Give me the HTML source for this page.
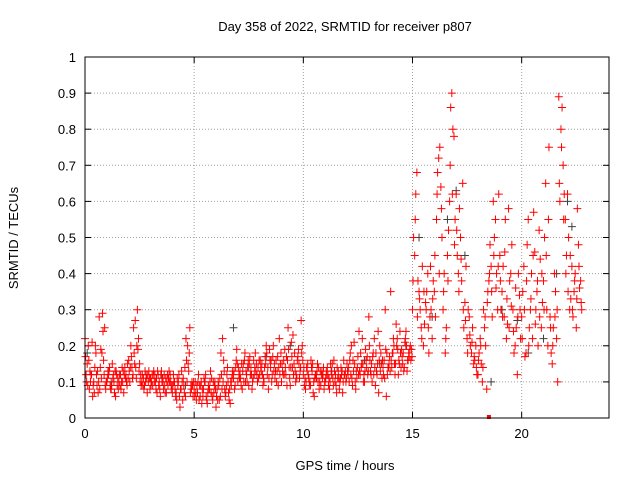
<!DOCTYPE html>
<html><head><meta charset="utf-8"><style>
body{margin:0;background:#fff}
svg{display:block;font-family:"Liberation Sans",sans-serif;font-size:13px}
</style></head><body>
<svg id="chart" width="640" height="480">
<text x="345" y="31" text-anchor="middle">Day 358 of 2022, SRMTID for receiver p807</text>
<text x="345" y="470" text-anchor="middle">GPS time / hours</text>
<text transform="translate(18,238) rotate(-90)" text-anchor="middle">SRMTID / TECUs</text>
<g id="grid"></g>
<g id="ticks"></g>
<g id="marks"></g>
<rect x="85" y="57" width="524" height="361" fill="none" stroke="#000"/>
</svg>
<script>
const xTicks=[0,5,10,15,20];
const yTicks=[0,0.1,0.2,0.3,0.4,0.5,0.6,0.7,0.8,0.9,1];
const yTickLabels=["0","0.1","0.2","0.3","0.4","0.5","0.6","0.7","0.8","0.9","1"];
const redA=[0.22,0.15,0.08,0.12,0.10,0.18,0.07,0.14,0.29,0.25,
0.10,0.13,0.08,0.12,0.06,0.11,0.09,0.14,0.12,0.10,
0.16,0.20,0.12,0.27,0.30,0.15,0.10,0.08,0.12,0.10,
0.11,0.09,0.12,0.07,0.10,0.13,0.08,0.11,0.09,0.12,
0.07,0.10,0.05,0.12,0.08,0.11,0.06,0.20,0.25,0.10,
0.08,0.05,0.12,0.09,0.06,0.10,0.04,0.08,0.11,0.07,
0.03,0.10,0.06,0.22,0.08,0.12,0.05,0.09,0.11,0.14,
0.10,0.13,0.08,0.16,0.12,0.09,0.14,0.11,0.18,0.10,
0.12,0.15,0.10,0.20,0.08,0.14,0.17,0.11,0.13,0.22,
0.10,0.16,0.12,0.25,0.09,0.14,0.18,0.11,0.15,0.27,
0.12,0.08,0.15,0.10,0.13,0.06,0.11,0.14,0.09,0.12,
0.10,0.14,0.08,0.12,0.16,0.09,0.13,0.11,0.07,0.12,
0.15,0.10,0.20,0.13,0.08,0.17,0.12,0.22,0.10,0.14,
0.28,0.12,0.18,0.09,0.15,0.20,0.11,0.16,0.06,0.14,
0.35,0.18,0.12,0.22,0.15,0.19,0.13,0.24,0.16,0.20,
0.30,0.45,0.68,0.35,0.25,0.20,0.32,0.40,0.28,0.22,
0.35,0.55,0.72,0.64,0.30,0.18,0.45,0.60,0.90,0.78,
0.62,0.40,0.50,0.65,0.32,0.22,0.28,0.18,0.15,0.20,
0.12,0.22,0.10,0.25,0.08,0.38,0.42,0.60,0.55,0.30,
0.45,0.35,0.28,0.22,0.58,0.40,0.30,0.20,0.12,0.34,
0.28,0.42,0.18,0.55,0.30,0.22,0.46,0.35,0.52,0.25,
0.38,0.65,0.20,0.28,0.15,0.40,0.22,0.89,0.80,0.70,
0.55,0.62,0.30,0.42,0.35,0.25,0.48,0.38];
const redB=[0.12,0.20,0.10,0.06,0.14,0.09,0.28,0.11,0.16,0.08,
0.13,0.09,0.15,0.07,0.12,0.10,0.08,0.13,0.11,0.15,
0.10,0.14,0.18,0.11,0.22,0.12,0.09,0.13,0.07,0.11,
0.10,0.13,0.08,0.12,0.06,0.11,0.09,0.10,0.13,0.08,
0.12,0.06,0.09,0.03,0.10,0.07,0.16,0.13,0.09,0.06,
0.10,0.07,0.09,0.04,0.11,0.06,0.09,0.13,0.05,0.10,
0.08,0.05,0.12,0.16,0.07,0.10,0.04,0.13,0.08,0.19,
0.12,0.09,0.15,0.10,0.14,0.17,0.08,0.12,0.15,0.11,
0.14,0.09,0.17,0.12,0.19,0.10,0.13,0.16,0.09,0.15,
0.13,0.19,0.09,0.14,0.21,0.12,0.10,0.17,0.13,0.20,
0.09,0.14,0.11,0.16,0.07,0.12,0.15,0.10,0.13,0.08,
0.13,0.09,0.15,0.11,0.10,0.14,0.08,0.12,0.16,0.10,
0.12,0.18,0.09,0.15,0.11,0.24,0.14,0.10,0.19,0.12,
0.16,0.10,0.22,0.13,0.07,0.18,0.14,0.30,0.12,0.17,
0.14,0.20,0.26,0.12,0.18,0.15,0.21,0.13,0.17,0.19,
0.50,0.62,0.38,0.30,0.42,0.26,0.35,0.18,0.30,0.38,
0.28,0.68,0.75,0.50,0.40,0.25,0.52,0.86,0.80,0.55,
0.45,0.58,0.38,0.25,0.42,0.30,0.20,0.25,0.16,0.12,
0.18,0.15,0.30,0.20,0.35,0.48,0.28,0.50,0.40,0.62,
0.30,0.42,0.55,0.26,0.38,0.48,0.18,0.25,0.40,0.22,
0.35,0.17,0.48,0.25,0.40,0.57,0.30,0.20,0.44,0.32,
0.50,0.30,0.75,0.18,0.25,0.35,0.10,0.60,0.86,0.62,
0.45,0.50,0.33,0.28,0.40,0.58,0.36,0.30];
const redC=[0.17,0.09,0.13,0.21,0.07,0.12,0.10,0.19,0.24,0.09,
0.11,0.14,0.09,0.10,0.13,0.08,0.12,0.10,0.14,0.09,
0.13,0.17,0.25,0.14,0.19,0.10,0.12,0.09,0.11,0.13,
0.09,0.12,0.10,0.13,0.08,0.10,0.12,0.07,0.11,0.10,
0.09,0.08,0.11,0.06,0.13,0.09,0.22,0.15,0.07,0.09,
0.06,0.09,0.05,0.10,0.08,0.12,0.07,0.10,0.06,0.09,
0.06,0.09,0.18,0.10,0.06,0.14,0.08,0.11,0.13,0.16,
0.14,0.11,0.13,0.18,0.10,0.15,0.12,0.16,0.13,0.14,
0.16,0.12,0.14,0.18,0.11,0.16,0.20,0.13,0.17,0.12,
0.15,0.12,0.17,0.19,0.14,0.23,0.13,0.16,0.11,0.18,
0.14,0.10,0.12,0.09,0.15,0.11,0.13,0.08,0.12,0.14,
0.11,0.12,0.10,0.15,0.13,0.07,0.11,0.14,0.10,0.13,
0.13,0.16,0.11,0.21,0.13,0.12,0.18,0.15,0.13,0.17,
0.20,0.15,0.12,0.18,0.24,0.13,0.16,0.11,0.18,0.15,
0.16,0.22,0.15,0.19,0.24,0.17,0.14,0.20,0.18,0.16,
0.38,0.55,0.28,0.33,0.22,0.35,0.30,0.25,0.42,0.33,
0.45,0.62,0.40,0.58,0.35,0.22,0.38,0.70,0.62,0.48,
0.52,0.35,0.44,0.30,0.27,0.18,0.23,0.21,0.17,0.14,
0.16,0.20,0.14,0.28,0.32,0.40,0.35,0.45,0.36,0.42,
0.38,0.28,0.46,0.33,0.25,0.31,0.24,0.36,0.28,0.30,
0.22,0.30,0.38,0.20,0.33,0.45,0.26,0.38,0.28,0.40,
0.30,0.45,0.55,0.25,0.20,0.28,0.30,0.65,0.75,0.55,
0.40,0.35,0.45,0.30,0.38,0.33,0.42,0.32];
const redD=[0.10,0.16,0.12,0.09,0.20,0.13,0.08,0.18,0.12,0.10,
0.12,0.08,0.11,0.13,0.09,0.12,0.10,0.07,0.12,0.11,
0.14,0.11,0.15,0.20,0.13,0.09,0.11,0.10,0.12,0.08,
0.12,0.10,0.11,0.09,0.12,0.10,0.07,0.12,0.10,0.09,
0.10,0.07,0.10,0.08,0.05,0.14,0.10,0.18,0.08,0.10,
0.07,0.10,0.06,0.08,0.10,0.05,0.08,0.07,0.10,0.08,
0.05,0.11,0.08,0.13,0.09,0.07,0.10,0.12,0.09,0.15,
0.11,0.15,0.10,0.13,0.16,0.12,0.10,0.14,0.12,0.16,
0.13,0.11,0.15,0.14,0.16,0.12,0.15,0.10,0.14,0.18,
0.12,0.14,0.16,0.11,0.17,0.15,0.12,0.19,0.14,0.16,
0.11,0.13,0.09,0.14,0.10,0.12,0.10,0.13,0.11,0.10,
0.12,0.11,0.13,0.09,0.12,0.11,0.10,0.13,0.12,0.11,
0.14,0.12,0.16,0.10,0.14,0.13,0.15,0.12,0.16,0.13,
0.13,0.17,0.14,0.12,0.16,0.15,0.12,0.19,0.14,0.13,
0.18,0.15,0.20,0.16,0.14,0.18,0.22,0.16,0.19,0.17];
const blackTimes=[0.1,1.2,3.5,4.6,6.8,7.5,8.3,9.4,10.6,11.3,12.8,13.5,14.7,15.3,15.9,16.6,17.0,17.4,18.6,19.1,19.8,20.3,21.0,21.6,22.1,22.3];
const blackValues=[0.18,0.10,0.12,0.09,0.25,0.14,0.17,0.20,0.11,0.13,0.16,0.15,0.20,0.50,0.28,0.55,0.63,0.45,0.10,0.30,0.27,0.18,0.22,0.40,0.60,0.53];
const markerTimes=[18.5];
const markerValues=[0];

const X0=85,X1=609,Y0=418,Y1=57;
const xs=t=>X0+(X1-X0)*t/24;
const ys=v=>Y0-(Y0-Y1)*v;
const NS="http://www.w3.org/2000/svg";
const grid=document.getElementById('grid'),ticks=document.getElementById('ticks'),marks=document.getElementById('marks');
function mk(tag,attrs,parent){const e=document.createElementNS(NS,tag);for(const k in attrs)e.setAttribute(k,attrs[k]);parent.appendChild(e);return e;}
xTicks.forEach(t=>{const x=xs(t);
 if(t>0){const g=mk('line',{x1:x,x2:x,y1:Y1,y2:Y0,stroke:'#a0a0a0','stroke-dasharray':'1,2'},grid);
 
 }
 mk('line',{x1:x,x2:x,y1:Y0,y2:Y0-6,stroke:'#000'},ticks);
 mk('line',{x1:x,x2:x,y1:Y1,y2:Y1+6,stroke:'#000'},ticks);
 const l=mk('text',{x:x,y:Y0+20,'text-anchor':'middle'},ticks);l.textContent=t;
 
 
});
yTicks.forEach((v,i)=>{const y=ys(v);
 if(v>0&&v<1){const g=mk('line',{x1:X0,x2:X1,y1:y,y2:y,stroke:'#a0a0a0','stroke-dasharray':'1,2'},grid);
 
 }
 mk('line',{x1:X0,x2:X0+6,y1:y,y2:y,stroke:'#000'},ticks);
 mk('line',{x1:X1,x2:X1-6,y1:y,y2:y,stroke:'#000'},ticks);
 const l=mk('text',{x:X0-9,y:y+5,'text-anchor':'end'},ticks);l.textContent=yTickLabels[i];
 
 
});
function plus(t,v,color,name){const x=xs(t),y=ys(v);
 const p=mk('path',{d:`M${x-4},${y}H${x+4}M${x},${y-4}V${y+4}`,stroke:color,'stroke-width':1,fill:'none'},marks);
 
 
}
blackValues.forEach((v,i)=>plus(blackTimes[i],v,'#404040','black-point'));
redA.forEach((v,i)=>plus(i*0.1,v,'#ff0000','red-point'));
redB.forEach((v,i)=>plus(i*0.1+0.05,v,'#ff0000','red-point'));
redC.forEach((v,i)=>plus(i*0.1+0.025,v,'#ff0000','red-point'));
redD.forEach((v,i)=>plus(i*0.1+0.075,v,'#ff0000','red-point'));
markerValues.forEach((v,i)=>{const r=mk('rect',{x:xs(markerTimes[i])-2,y:ys(v)-3,width:4,height:4,fill:'#ff0000'},marks);
 
 });
</script>
</body></html>
